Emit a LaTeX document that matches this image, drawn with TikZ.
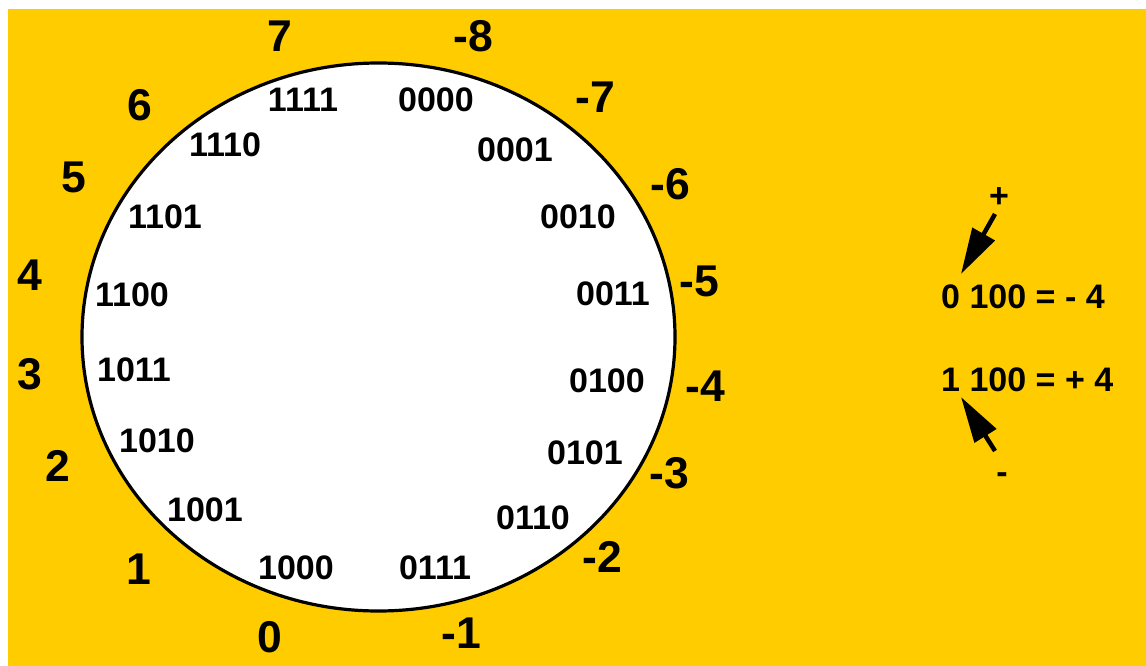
\documentclass[tikz,border=0pt]{standalone}
\usepackage{fontspec}
\setmainfont{Liberation Sans}
\usetikzlibrary{arrows.meta}
\definecolor{bgyellow}{HTML}{FFCC00}
\tikzset{
  outer/.style={inner sep=0pt, font=\bfseries\fontsize{44.5}{44.5}\selectfont},
  inner/.style={inner sep=0pt, font=\bfseries\fontsize{34}{34}\selectfont},
  side/.style={inner sep=0pt, font=\bfseries\fontsize{34}{34}\selectfont},
  bigarrow/.style={line width=4.5pt, -{Triangle[length=46pt,width=25pt]}}
}
\begin{document}
\begin{tikzpicture}[x=1pt,y=-1pt]
\useasboundingbox (0,0) rectangle (1146,666);
\fill[white] (0,0) rectangle (1146,666);
\fill[bgyellow] (8,9) rectangle (1146,666);
\draw[line width=3.2pt, fill=white] (378.5,337) ellipse [x radius=296.5, y radius=274];
% outer labels
\node[outer] (o7)  at (280,36)  {7};
\node[outer] (m8)  at (473,36)  {-8};
\node[outer] (m7)  at (595,97)  {-7};
\node[outer] (m6)  at (670,184) {-6};
\node[outer] (m5)  at (699,281) {-5};
\node[outer] (m4)  at (705,386) {-4};
\node[outer] (m3)  at (669,473) {-3};
\node[outer] (m2)  at (602,557) {-2};
\node[outer] (m1)  at (461,633) {-1};
\node[outer] (o0)  at (270,637) {0};
\node[outer] (o1)  at (139,569) {1};
\node[outer] (o2)  at (58,466)  {2};
\node[outer] (o3)  at (30,374)  {3};
\node[outer] (o4)  at (30,275)  {4};
\node[outer] (o5)  at (74,177)  {5};
\node[outer] (o6)  at (140,105) {6};
% inner labels
\node[inner] (b1111) at (303,100) {1111};
\node[inner] (b0000) at (436,100) {0000};
\node[inner] (b0001) at (515,150) {0001};
\node[inner] (b0010) at (578,217) {0010};
\node[inner] (b0011) at (613,294) {0011};
\node[inner] (b0100) at (607,381) {0100};
\node[inner] (b0101) at (585,453) {0101};
\node[inner] (b0110) at (533,518) {0110};
\node[inner] (b0111) at (435,568) {0111};
\node[inner] (b1000) at (296,568) {1000};
\node[inner] (b1001) at (205,510) {1001};
\node[inner] (b1010) at (157,441) {1010};
\node[inner] (b1011) at (134,370) {1011};
\node[inner] (b1100) at (132,295) {1100};
\node[inner] (b1101) at (165,217) {1101};
\node[inner] (b1110) at (225,145) {1110};
% side notes
\node[side] (plus)  at (999,198) {+};
\node[side] (minus) at (1002,478) {-};
\node[side, anchor=west] (eq1) at (941,297) {0 100 = - 4};
\node[side, anchor=west] (eq2) at (941,380) {1 100 = + 4};
\coordinate (a1s) at (995,214);
\coordinate (a1t) at (961,274);
\coordinate (a2s) at (995,451);
\coordinate (a2t) at (961,397);
\draw[bigarrow] (a1s) -- (a1t);
\draw[bigarrow] (a2s) -- (a2t);
\end{tikzpicture}
\end{document}
